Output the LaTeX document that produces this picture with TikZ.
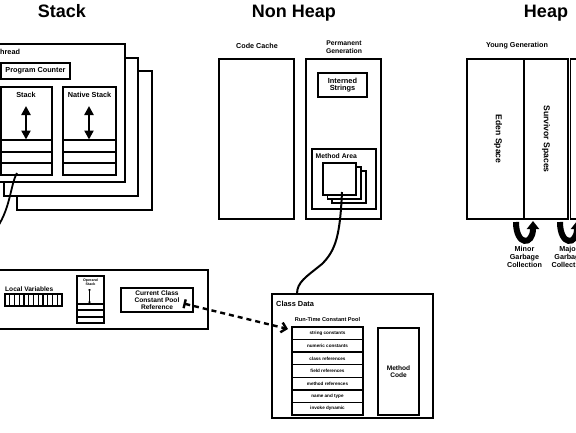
\documentclass[tikz,border=0pt]{standalone}
\usepackage{fontspec}
\setmainfont{Liberation Sans}
\usetikzlibrary{arrows.meta,calc}
\begin{document}
\begin{tikzpicture}[x=1pt,y=-1pt,
  box/.style={draw, line width=1.5pt, fill=white, inner sep=0pt, outer sep=0pt, anchor=north west},
  sep/.style={line width=1.4pt},
  lbl/.style={font=\bfseries\fontsize{7.3}{8}\selectfont, inner sep=0pt, align=center},
  ttl/.style={font=\bfseries\fontsize{18}{20}\selectfont, inner sep=0pt, anchor=base},
  rowlbl/.style={font=\bfseries\fontsize{4.6}{5}\selectfont},
  dblarrow/.style={line width=2.6pt, {Triangle[width=9pt,length=9pt]}-{Triangle[width=9pt,length=9pt]}},
  link/.style={line width=1.8pt},
  gcarrow/.style={line width=6pt, -{Triangle[width=12pt,length=8pt]}},
  refarrow/.style={line width=2.4pt, dash pattern=on 5pt off 4pt,
     {Bar[width=9pt,line width=2.4pt]}-{Straight Barb[length=5pt,width=10pt,line width=2.4pt]}},
]
\useasboundingbox (0,0) rectangle (576,432);

% ---------- titles
\node[ttl] (tStack) at (62,17) {Stack};
\node[ttl] (tNonHeap) at (294,17) {Non Heap};
\node[ttl] (tHeap) at (546,17) {Heap};

% ---------- thread stacks
\node[box, minimum width=135pt, minimum height=139pt] (th3) at (17,71) {};
\node[box, minimum width=134pt, minimum height=138pt] (th2) at (4,58) {};
\node[box, minimum width=134pt, minimum height=138pt] (th1) at (-9,44) {};
\node[lbl, anchor=west] (threadlbl) at (-4.5,52) {Thread};
\node[box, minimum width=69.4pt, minimum height=16pt, lbl, anchor=north west] (pc) at (0.8,63) {Program Counter};

\node[box, minimum width=51.2pt, minimum height=88pt] (stk) at (0.8,87) {};
\node[lbl, anchor=base] (stklbl) at (26,97) {Stack};
\foreach \yy in {140,152,163} \draw[sep] (0.8,\yy) -- (52,\yy);
\coordinate (stkTop) at (26,106);
\coordinate (stkBot) at (26,139.5);
\draw[dblarrow] (stkTop) -- (stkBot);

\node[box, minimum width=53pt, minimum height=88pt] (nstk) at (63,87) {};
\node[lbl, anchor=base] (nstklbl) at (89.5,97) {Native Stack};
\foreach \yy in {140,152,163} \draw[sep] (63,\yy) -- (116,\yy);
\coordinate (nstkTop) at (89,106);
\coordinate (nstkBot) at (89,139.5);
\draw[dblarrow] (nstkTop) -- (nstkBot);

% ---------- frame
\node[box, minimum width=228pt, minimum height=59pt] (frame) at (-20,270) {};
\node[lbl, font=\bfseries\fontsize{6.6}{7}\selectfont, anchor=west] (lvlbl) at (5,289) {Local Variables};
\node[box, minimum width=57pt, minimum height=12pt] (lv) at (5,294) {};
\foreach \i in {1,...,11} \draw[line width=1.1pt] ({5+\i*4.75},294) -- ({5+\i*4.75},306);

\node[box, minimum width=27pt, minimum height=47pt] (ops) at (77,276) {};
\node[lbl, font=\bfseries\fontsize{3.6}{3.9}\selectfont] (opslbl) at (90.5,282.5) {Operand\\Stack};
\foreach \yy in {304,310,317} \draw[sep] (77,\yy) -- (104,\yy);
\coordinate (opsTop) at (89.5,289);
\coordinate (opsBot) at (89.5,303);
\draw[line width=0.6pt, {To[length=1.5pt,width=3pt]}-{To[length=1.5pt,width=3pt]}] (opsTop) -- (opsBot);

\node[box, minimum width=72pt, minimum height=24pt] (ccpr) at (121,288) {};
\node[lbl, font=\bfseries\fontsize{6.6}{6.8}\selectfont] (ccprlbl) at (157,300) {Current Class\\Constant Pool\\Reference};

% ---------- non heap
\node[lbl, font=\bfseries\fontsize{7.2}{8}\selectfont] (cclbl) at (257,46) {Code Cache};
\node[box, minimum width=75pt, minimum height=160pt] (cc) at (219,59) {};
\node[lbl, font=\bfseries\fontsize{6.8}{8}\selectfont] (pglbl) at (344,47) {Permanent\\Generation};
\node[box, minimum width=75pt, minimum height=160pt] (pg) at (306,59) {};
\node[box, minimum width=49pt, minimum height=24pt] (ist) at (318,73) {};
\node[lbl, font=\bfseries\fontsize{7.4}{7.7}\selectfont] (istlbl) at (342.5,85) {Interned\\Strings};
\node[box, minimum width=64pt, minimum height=60pt] (ma) at (312,149) {};
\node[lbl, font=\bfseries\fontsize{6.8}{7}\selectfont, anchor=west] (malbl) at (315.5,156) {Method Area};
\node[box, minimum width=34pt, minimum height=32pt] (sq3) at (332,171) {};
\node[box, minimum width=33.5pt, minimum height=32pt] (sq2) at (327.5,167) {};
\node[box, minimum width=33pt, minimum height=32pt] (sq1) at (323,163) {};

% ---------- class data
\node[box, minimum width=161pt, minimum height=124pt] (cd) at (272,294) {};
\node[lbl, font=\bfseries\fontsize{7.4}{8}\selectfont, anchor=west] (cdlbl) at (276,303.5) {Class Data};
\node[lbl, font=\bfseries\fontsize{5.6}{6}\selectfont] (rtcplbl) at (327.5,319) {Run-Time Constant Pool};
\foreach \t [count=\i from 0] in {string constants,numeric constants,class references,field references,method references,name and type,invoke dynamic}
  \node[box, rowlbl, minimum width=71pt, minimum height=12.57pt] (row\i) at (292,{327+\i*12.57}) {\t};
\node[box, lbl, font=\bfseries\fontsize{6.6}{7.2}\selectfont, minimum width=41pt, minimum height=87pt] (mc) at (378,328) {Method\\Code};

% ---------- heap
\node[lbl, font=\bfseries\fontsize{7.2}{8}\selectfont] (yglbl) at (517,46) {Young Generation};
\node[box, minimum width=57pt, minimum height=160pt] (eden) at (467,59) {};
\node[box, minimum width=44pt, minimum height=160pt] (surv) at (524,59) {};
\node[box, minimum width=40pt, minimum height=160pt] (old) at (570.5,59) {};
\node[lbl, font=\bfseries\fontsize{8.6}{9}\selectfont, rotate=-90] (edenlbl) at (498,139) {Eden Space};
\node[lbl, font=\bfseries\fontsize{8.6}{9}\selectfont, rotate=-90] (survlbl) at (546,139) {Survivor Spaces};

\coordinate (minorA) at (516,222);
\coordinate (minorB) at (533,221);
\draw[gcarrow] (minorA) .. controls (516,246) and (533,246) .. (minorB);
\coordinate (majorA) at (560,222);
\coordinate (majorB) at (577,221);
\draw[gcarrow] (majorA) .. controls (560,246) and (577,246) .. (majorB);
\node[lbl, font=\bfseries\fontsize{7.2}{8}\selectfont] (minorlbl) at (524.5,257) {Minor\\Garbage\\Collection};
\node[lbl, font=\bfseries\fontsize{7.2}{8}\selectfont] (majorlbl) at (569,257) {Major\\Garbage\\Collection};

% ---------- connectors
\coordinate (stkLink) at (17,173);
\coordinate (frameLink) at (-6,232);
\draw[link] (stkLink) .. controls (10,185) and (11,210) .. (frameLink);

\coordinate (maLink) at (342,192);
\coordinate (mid) at (322,264);
\coordinate (cdLink) at (297,294);
\draw[line width=2pt] (maLink) .. controls (340,235) and (336,250) .. (mid) .. controls (306,277) and (297,282) .. (cdLink);

\coordinate (ccprTail) at (183.5,303.5);
\coordinate (rtcpHead) at (288,329);
\draw[refarrow] (ccprTail) -- (rtcpHead);
\end{tikzpicture}
\end{document}
